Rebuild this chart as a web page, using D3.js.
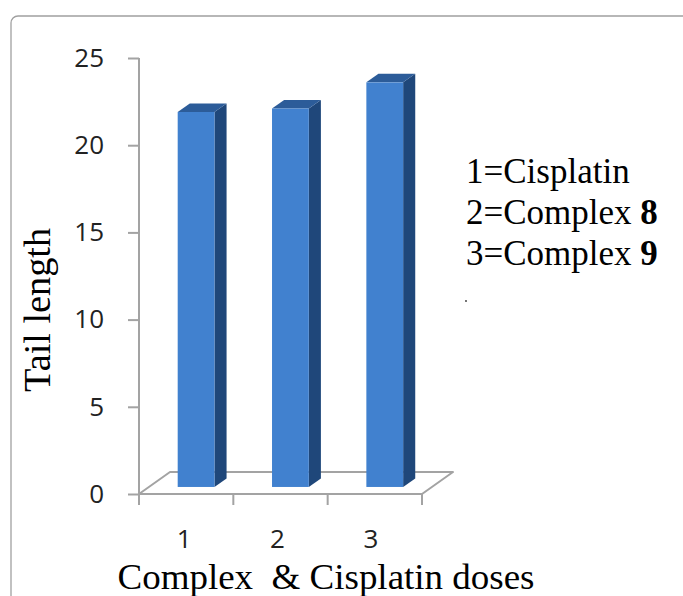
<!DOCTYPE html>
<html>
<head>
<meta charset="utf-8">
<script src="https://cdn.jsdelivr.net/npm/d3@7"></script>
<style>
  html, body { margin: 0; padding: 0; background: #ffffff; }
  svg { display: block; }
</style>
</head>
<body>
<svg id="chart" width="683" height="596"></svg>
<script>
// Comet assay tail length per treatment
const categories = ["1", "2", "3"];
const tailLength = [21.5, 21.7, 23.2];
const yTicks = [0, 5, 10, 15, 20, 25];
const legendLines = [
  { text: "1=Cisplatin", bold: "" },
  { text: "2=Complex ", bold: "8" },
  { text: "3=Complex ", bold: "9" }
];

const svg = d3.select("#chart");
const serif = "'Liberation Serif', 'Times New Roman', serif";
const sans = "'Open Sans', sans-serif";

// outer frame
svg.append("rect")
  .attr("x", 11).attr("y", 16)
  .attr("width", 720).attr("height", 640)
  .attr("rx", 7)
  .attr("fill", "none")
  .attr("stroke", "#a0a0a0")
  .attr("stroke-width", 1.3);

// plot geometry (oblique 3D projection)
const x0 = 139, x1 = 422, zeroY = 494, topY = 58;
const depth = { dx: 31, dy: -22 };          // full floor depth
const barFront = 0.32, barBack = 0.71;       // bar position inside the depth

const x = d3.scaleBand().domain(categories).range([x0, x1]).paddingInner(0).paddingOuter(0);
const y = d3.scaleLinear().domain([0, 25]).range([zeroY, topY]);

const axisColor = "#a3a3a3";

// floor
svg.append("polygon")
  .attr("points", [
    [x0, zeroY], [x1, zeroY],
    [x1 + depth.dx, zeroY + depth.dy], [x0 + depth.dx, zeroY + depth.dy]
  ].map(p => p.join(",")).join(" "))
  .attr("fill", "#ffffff")
  .attr("stroke", axisColor)
  .attr("stroke-width", 2)
  .attr("stroke-linejoin", "round");

// value axis
const yAxis = d3.axisLeft(y).tickValues(yTicks).tickSize(11).tickPadding(24).tickFormat(d3.format("d"));
const gy = svg.append("g").attr("transform", `translate(${x0},0)`).call(yAxis);
gy.select(".domain").remove();
gy.append("line")
  .attr("x1", 0).attr("x2", 0).attr("y1", topY).attr("y2", zeroY + 11)
  .attr("stroke", axisColor).attr("stroke-width", 2);
gy.selectAll(".tick line").attr("stroke", axisColor).attr("stroke-width", 2);
gy.selectAll(".tick text")
  .attr("fill", "#222")
  .style("font-family", sans)
  .style("font-size", "26px");

// category axis
const gx = svg.append("g").attr("transform", `translate(0,${zeroY})`);
gx.selectAll("line.edge")
  .data(x.domain().map(d => x(d)).concat([x1]))
  .enter().append("line")
  .attr("x1", d => d).attr("x2", d => d)
  .attr("y1", 0).attr("y2", 11)
  .attr("stroke", axisColor).attr("stroke-width", 2);
gx.selectAll("text")
  .data(categories)
  .enter().append("text")
  .attr("x", (d, i) => x(d) + x.bandwidth() / 2 - 2 - i)
  .attr("y", 54)
  .attr("text-anchor", "middle")
  .attr("fill", "#222")
  .style("font-family", sans)
  .style("font-size", "26px")
  .text(d => d);

// 3D bars
const barW = x.bandwidth() * 0.39;
const fdx = depth.dx * barFront, fdy = depth.dy * barFront;
const bdx = depth.dx * barBack, bdy = depth.dy * barBack;

const bars = svg.append("g").selectAll("g.bar")
  .data(categories.map((c, i) => ({ c, v: tailLength[i] })))
  .enter().append("g");

bars.each(function (d) {
  const g = d3.select(this);
  const xl = x(d.c) + (x.bandwidth() - barW) / 2 + fdx;
  const xr = xl + barW;
  const yt = y(d.v) + fdy;
  const yb = y(0) + fdy;
  const ddx = bdx - fdx, ddy = bdy - fdy;
  // side face
  g.append("polygon")
    .attr("points", [[xr, yt], [xr + ddx, yt + ddy], [xr + ddx, yb + ddy], [xr, yb]].map(p => p.join(",")).join(" "))
    .attr("fill", "#1f477a");
  // top face
  g.append("polygon")
    .attr("points", [[xl, yt], [xl + ddx, yt + ddy], [xr + ddx, yt + ddy], [xr, yt]].map(p => p.join(",")).join(" "))
    .attr("fill", "#2c5c99");
  // front face
  g.append("rect")
    .attr("x", xl).attr("y", yt)
    .attr("width", barW).attr("height", yb - yt)
    .attr("fill", "#4181cf");
});

// axis titles
svg.append("text")
  .attr("transform", "translate(50,310) rotate(-90)")
  .attr("text-anchor", "middle")
  .attr("textLength", 164)
  .attr("lengthAdjust", "spacingAndGlyphs")
  .style("font-family", serif)
  .style("font-size", "37px")
  .attr("fill", "#000")
  .text("Tail length");

svg.append("text")
  .attr("x", 326).attr("y", 589)
  .attr("text-anchor", "middle")
  .attr("textLength", 417)
  .attr("lengthAdjust", "spacingAndGlyphs")
  .attr("xml:space", "preserve")
  .style("white-space", "pre")
  .style("font-family", serif)
  .style("font-size", "36px")
  .attr("fill", "#000")
  .text("Complex  & Cisplatin doses");

// legend text
const legend = svg.append("g")
  .style("font-family", serif)
  .style("font-size", "35px")
  .attr("fill", "#000");
legend.selectAll("text")
  .data(legendLines)
  .enter().append("text")
  .attr("x", 466)
  .attr("y", (d, i) => 183 + i * 41)
  .each(function (d) {
    const t = d3.select(this);
    t.append("tspan").text(d.text);
    if (d.bold) t.append("tspan").attr("font-weight", "bold").text(d.bold);
  });
svg.append("circle").attr("cx", 466).attr("cy", 301).attr("r", 0.9).attr("fill", "#333");
</script>
</body>
</html>
